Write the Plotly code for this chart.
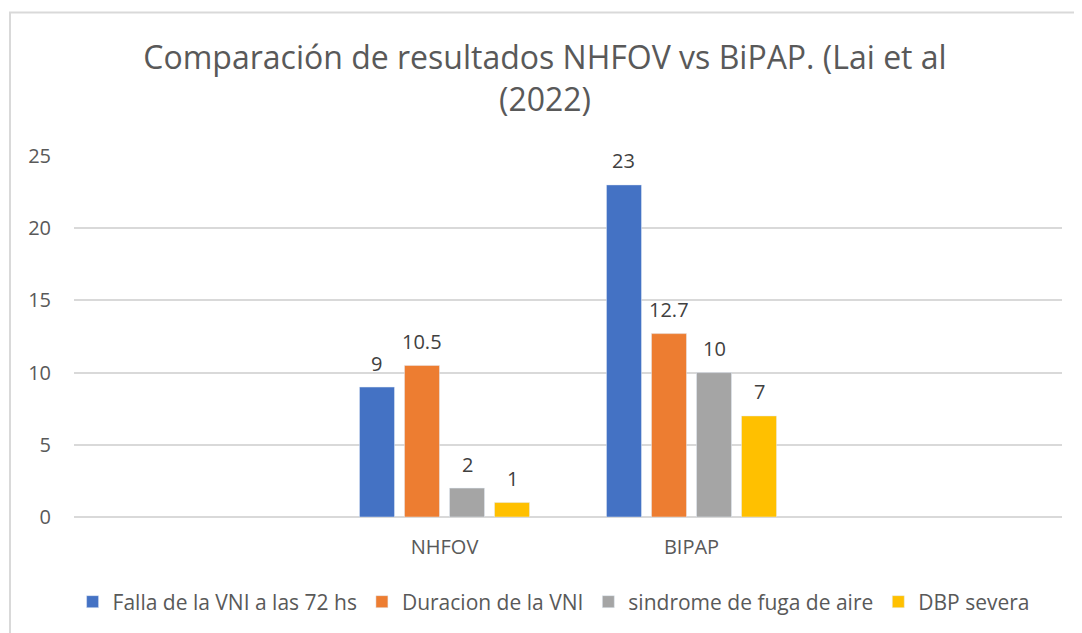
import plotly.graph_objects as go

categories = ["", "NHFOV", "BIPAP", " "]
series_names = ["Falla de la VNI a las 72 hs", "Duracion de la VNI",
                "sindrome de fuga de aire", "DBP severa"]
falla = [None, 9, 23, None]
duracion = [None, 10.5, 12.7, None]
sindrome = [None, 2, 10, None]
dbp = [None, 1, 7, None]
colors = ["#4472C4", "#ED7D31", "#A5A5A5", "#FFC000"]
y_ticks = [0, 5, 10, 15, 20, 25]

# page has an 8px body margin; figure sized to fill the rest of the window
W, H = 1074, 625
ML, MR, MT, MB = 66, 20, 148, 116
BARGAP, GROUPGAP = 0.271, 0.222
all_series = [falla, duracion, sindrome, dbp]

fig = go.Figure()
for name, vals, col in zip(series_names, all_series, colors):
    fig.add_trace(go.Bar(x=categories, y=vals, name=name, marker_color=col))

# data labels placed above bars through the data axes
cat_px = (W - ML - MR) / len(categories)
slot_px = cat_px * (1 - BARGAP) / len(all_series)
for i, vals in enumerate(all_series):
    shift = (i - (len(all_series) - 1) / 2) * slot_px
    for c, v in zip(categories, vals):
        if v is None:
            continue
        fig.add_annotation(x=c, y=v, xref="x", yref="y", text=f"{v:g}",
                           showarrow=False, xshift=shift, yshift=24,
                           yanchor="middle",
                           font=dict(size=20, color="#404040"))

def px2paper_x(px):
    return (px - ML) / (W - ML - MR)

def px2paper_y(py):
    return (H - MB - py) / (H - MT - MB)

fig.add_shape(type="path", xref="paper", yref="paper",
              path=f"M {px2paper_x(2)} {px2paper_y(640)} L {px2paper_x(2)} {px2paper_y(4.5)} L {px2paper_x(1090)} {px2paper_y(4.5)}",
              line=dict(color="#D9D9D9", width=2))

fig.update_layout(
    width=W, height=H,
    margin=dict(l=ML, r=MR, t=MT, b=MB),
    paper_bgcolor="white", plot_bgcolor="white",
    font=dict(family="Open Sans", color="#595959"),
    title=dict(text="Comparación de resultados NHFOV vs BiPAP. (Lai et al<br>(2022)",
               x=0.5, xref="container", xanchor="center",
               y=1 - 61 / H, yref="container", yanchor="top",
               font=dict(size=32, color="#595959")),
    barmode="group", bargap=BARGAP, bargroupgap=GROUPGAP,
    showlegend=True,
    legend=dict(orientation="h", x=0.508, xref="container", xanchor="center",
                y=1 - 594 / H, yref="container", yanchor="middle",
                font=dict(size=21, color="#595959"), itemwidth=30,
                traceorder="normal"),
    xaxis=dict(type="category", categoryorder="array", categoryarray=categories,
               showgrid=False, showline=False, ticks="",
               ticklabelstandoff=16, tickfont=dict(size=20, color="#595959")),
    yaxis=dict(range=[0, 25], tickvals=y_ticks, showgrid=True,
               gridcolor="#D9D9D9", gridwidth=1.5, zeroline=True,
               zerolinecolor="#D9D9D9", zerolinewidth=1.5, showline=False,
               ticklabelstandoff=22, tickfont=dict(size=20, color="#595959")),
)

fig.write_html("out.html")
